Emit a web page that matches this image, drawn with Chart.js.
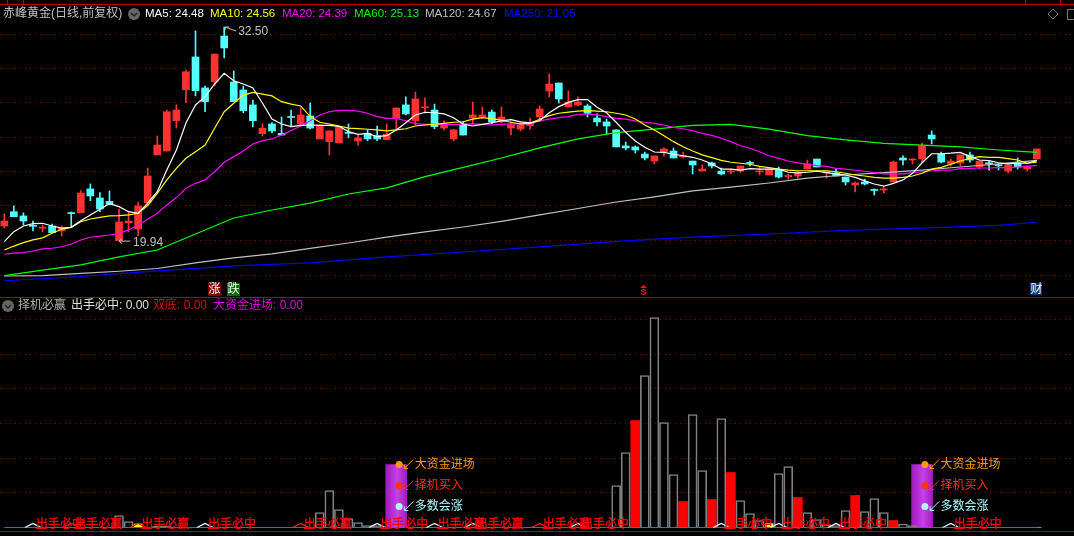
<!DOCTYPE html>
<html>
<head>
<meta charset="utf-8">
<title>赤峰黄金</title>
<script src="https://cdn.jsdelivr.net/npm/chart.js@4/dist/chart.umd.js"></script>
<style>
html, body { margin: 0; padding: 0; background: #000; overflow: hidden; }
canvas { display: block; }
</style>
</head>
<body>
<canvas id="kline" width="1074" height="536"></canvas>
<script>
// daily candles, one entry per trading day
var opens = [20.80,21.64,21.39,20.83,20.67,20.80,20.51,21.58,21.58,22.98,
  22.45,22.25,19.94,20.99,20.62,22.17,24.98,25.21,26.99,28.82,
  30.74,28.92,29.29,31.97,29.27,28.80,27.92,26.23,26.80,26.25,
  27.23,26.80,27.27,25.92,25.76,25.68,26.30,25.80,26.25,26.11,
  25.88,27.13,27.92,26.99,27.75,27.62,26.56,25.92,26.80,27.15,
  27.21,27.50,26.92,26.56,26.50,26.70,27.21,28.74,29.21,27.80,
  27.92,27.86,27.15,26.92,26.45,25.51,25.45,25.03,24.62,25.15,
  25.21,24.86,24.62,24.03,24.51,24.03,23.98,24.03,24.53,23.98,
  23.80,24.09,23.71,23.74,24.15,24.74,23.92,23.92,23.68,23.21,
  23.39,22.95,22.92,23.39,24.80,24.68,24.74,26.15,25.03,24.45,
  24.51,24.98,24.27,24.51,24.39,24.03,24.51,24.15,24.74];
var closes = [21.09,21.35,21.09,20.78,20.73,20.41,20.68,21.53,22.74,22.57,
  21.80,22.08,21.04,21.09,21.98,23.74,25.56,27.52,27.62,29.87,
  28.76,28.11,30.91,31.27,28.11,27.58,26.99,26.55,26.39,26.15,
  27.18,27.33,26.56,26.74,26.39,26.62,26.25,25.98,25.92,25.92,
  26.21,27.74,27.39,28.27,27.81,26.64,26.78,26.45,26.15,27.33,
  27.33,26.92,27.21,26.74,26.74,26.86,27.68,29.15,28.27,28.09,
  28.09,27.43,26.92,26.68,25.45,25.39,25.27,24.80,24.92,25.33,
  24.80,24.93,24.39,24.15,24.33,23.86,24.03,24.33,24.48,24.03,
  24.15,23.68,23.77,23.92,24.45,24.27,24.03,23.74,23.39,23.33,
  23.27,22.89,22.98,24.56,24.68,24.74,25.51,25.92,24.56,24.62,
  24.98,24.68,24.62,24.46,24.34,24.39,24.27,24.33,25.33];
var highs = [21.51,21.98,21.57,21.09,20.86,20.92,20.80,21.62,22.88,23.27,
  22.76,22.86,21.80,21.64,22.21,24.21,26.09,27.62,27.93,29.97,
  32.27,29.03,30.91,32.50,29.92,29.03,28.21,26.80,26.88,27.21,
  27.62,27.76,28.03,26.74,26.39,26.62,26.80,26.15,26.45,26.68,
  26.80,27.74,28.39,28.68,28.33,27.97,26.98,26.49,26.93,28.09,
  27.80,27.62,27.80,26.92,26.92,27.15,27.86,29.74,29.21,28.74,
  28.39,27.97,27.39,27.09,26.45,25.74,25.51,25.15,24.92,25.39,
  25.39,25.15,24.62,24.39,24.56,24.21,24.15,24.33,24.62,24.27,
  24.15,24.27,23.86,24.03,24.68,24.74,24.03,24.15,23.68,23.39,
  23.56,22.98,23.09,24.62,24.92,24.74,25.68,26.39,25.15,24.74,
  24.98,25.15,24.62,24.62,24.45,24.39,24.80,24.33,25.33];
var lows = [20.68,21.33,20.86,20.51,20.45,20.39,20.21,20.74,21.57,22.29,
  21.64,22.04,19.94,20.47,20.23,22.04,24.98,25.21,26.56,28.05,
  28.45,27.52,29.03,30.68,28.11,27.46,26.62,26.09,26.27,26.15,
  26.62,26.68,26.50,25.92,24.98,25.68,25.98,25.56,25.82,25.82,
  25.88,26.49,27.33,26.74,27.43,26.52,26.45,25.80,26.15,26.80,
  27.15,26.80,26.86,26.15,26.39,26.50,26.98,28.39,28.03,27.80,
  27.86,27.21,26.68,26.21,25.45,25.27,25.09,24.68,24.45,24.92,
  24.80,24.80,23.86,24.03,24.21,23.80,23.86,23.94,24.33,23.80,
  23.80,23.62,23.56,23.62,24.15,24.27,23.62,23.74,23.21,22.80,
  23.21,22.62,22.74,23.39,24.39,24.45,24.51,25.62,24.51,24.33,
  24.33,24.56,24.15,24.09,24.09,23.92,24.15,24.03,24.74];

var ma5 = [19.88,20.47,20.80,20.94,20.96,20.80,20.67,20.72,21.11,21.45,
  21.78,22.11,21.94,21.64,21.55,22.14,22.82,24.09,25.27,26.86,
  27.92,28.40,29.15,29.78,29.34,29.15,28.92,28.03,27.09,26.80,
  26.64,26.72,26.74,26.72,26.72,26.66,26.35,26.19,26.25,26.05,
  26.11,26.45,26.87,27.33,27.49,27.46,27.39,27.17,26.78,26.68,
  26.78,26.87,26.98,27.05,26.92,26.87,26.99,27.46,27.82,28.07,
  28.23,28.23,27.78,27.46,26.90,26.31,25.80,25.43,25.15,25.13,
  25.02,24.93,24.84,24.68,24.45,24.15,24.14,24.09,24.17,24.15,
  24.15,24.14,23.96,23.92,23.96,24.02,23.94,23.86,23.80,23.66,
  23.45,23.27,23.14,23.31,23.51,23.90,24.52,25.05,25.05,25.08,
  25.13,24.88,24.68,24.64,24.52,24.45,24.49,24.49,24.64];
var ma10 = [19.39,19.62,19.82,19.98,20.10,20.37,20.61,20.72,21.05,21.21,
  21.31,21.39,21.41,21.45,21.55,22.00,22.72,23.51,24.19,24.78,
  25.17,25.56,26.55,27.52,28.02,28.50,28.66,28.56,28.45,28.11,
  27.97,27.86,27.23,26.90,26.80,26.68,26.56,26.53,26.49,26.45,
  26.39,26.45,26.52,26.68,26.74,26.78,26.84,26.90,26.93,27.08,
  27.17,27.11,27.03,26.90,26.80,26.84,27.08,27.29,27.43,27.50,
  27.56,27.58,27.56,27.52,27.43,27.33,27.09,26.74,26.45,26.11,
  25.76,25.46,25.21,24.98,24.82,24.66,24.55,24.49,24.43,24.31,
  24.23,24.15,24.09,24.05,24.05,24.05,24.05,23.99,23.90,23.80,
  23.74,23.66,23.61,23.61,23.66,23.74,23.90,24.14,24.25,24.43,
  24.62,24.78,24.88,24.84,24.84,24.76,24.68,24.49,24.55];
var ma20 = [19.14,19.20,19.23,19.33,19.45,19.49,19.58,19.73,19.98,20.14,
  20.21,20.27,20.37,20.57,20.86,21.20,21.55,22.04,22.47,23.02,
  23.31,23.51,23.99,24.55,24.88,25.21,25.62,25.82,25.92,26.15,
  26.41,26.68,26.99,27.33,27.52,27.60,27.60,27.56,27.43,27.23,
  27.13,27.13,26.99,26.82,26.78,26.78,26.78,26.78,26.78,26.80,
  26.78,26.74,26.78,26.80,26.80,26.80,26.98,27.08,27.17,27.23,
  27.37,27.37,27.33,27.23,27.13,27.08,26.98,26.90,26.84,26.74,
  26.60,26.52,26.41,26.25,26.13,25.96,25.76,25.52,25.37,25.17,
  24.93,24.78,24.62,24.51,24.43,24.35,24.31,24.19,24.15,24.08,
  24.02,23.94,23.86,23.86,23.86,23.94,23.99,24.05,24.08,24.08,
  24.17,24.19,24.21,24.21,24.23,24.23,24.27,24.29,24.37];

// the slow averages are read every few days
var slowDays = [0,4,8,12,16,20,24,28,32,36,40,44,48,52,56,60,64,68,72,76,80,84,88,92,96,100,104,108];
var ma60 = [17.88,18.21,18.51,18.98,19.39,20.33,21.27,21.74,22.15,22.68,23.04,23.70,24.25,24.80,
  25.39,25.92,26.29,26.50,26.72,26.78,26.50,26.11,25.86,25.66,25.55,25.45,25.27,25.13];
var ma120 = [17.86,17.88,18.01,18.14,18.30,18.63,18.92,19.16,19.48,19.80,20.15,20.45,20.74,21.07,
  21.45,21.83,22.21,22.51,22.86,23.09,23.33,23.62,23.80,23.94,24.09,24.27,24.45,24.66];
var ma250Days = [0,8,16,24,32,40,48,56,64,72,80,88,96,104,108];
var ma250 = [17.58,17.83,18.16,18.45,18.63,18.98,19.27,19.57,19.89,20.15,20.33,20.54,20.68,20.84,21.02];

var priceGrid = [32.07,30.05,28.05,26.03,24.02,21.98,19.94,17.88];

// lower pane
var greyDays = [12,13,16,17,33,34,35,36,37,38,39,64,65,67,68,69,70,72,73,75,77,78,79,81,82,84,85,86,87,88,90,91,92,94,95];
var greyVols = [12,6,1.5,1.5,15,37,18,9,5,2,2,42,75,152,210,105,53,113,57,109,27,14,7,54,61,15,8,3,2,17,16,29,15,3.5,2];
var redDays = [66,71,74,76,83,89,93];
var redVols = [107,26,28,55,30,32,7];
var yellowDays = [14,80];
var yellowVols = [3.5,4];
var signalBarDays = [41,96];
var signalBarVols = [63,63];
var volGrid = [35,69,104,139,173,208];

var signalDays = [3,7,14,21,31,39,45,49,56,60,75,81,87,99];
var signalTexts = ["出手必中","出手必赢","出手必赢","出手必中","出手必赢","出手必中","出手必赢","出手必赢","出手必赢","出手必中","出手必中","出手必中","出手必中","出手必中"];
var whiteTents = [3,21,39,45,49,60,75,81,87,99];
var redTents = [7,14,31,56];
var markerVols = [63,42,21];
var markerTexts = ["大资金进场","择机买入","多数会涨"];
var markerColors = ["#ff9900","#ff3300","#aaffff"];

var days = opens.map(function (o, i) { return i; });
var RED = "#ff3232", CYAN = "#54ffff";
var LATIN = '11.5px "Liberation Sans", "Noto Sans CJK SC"';

function pts(xs, ys) {
  return xs.map(function (x, i) { return { x: x, y: ys[i] }; });
}
function tents(list) {
  var out = [];
  list.forEach(function (d) {
    out.push({ x: d - 0.85, y: 0 }, { x: d, y: 4 }, { x: d + 0.85, y: 0 }, { x: d + 0.9, y: null });
  });
  return out;
}
function candleColor(c) {
  var i = c.dataIndex;
  return closes[i] >= opens[i] ? RED : CYAN;
}
function lineSet(label, data, color, order, axis) {
  return { type: "line", label: label, data: data, borderColor: color, borderWidth: 1.2,
    pointRadius: 0, tension: 0, order: order, yAxisID: axis || "price" };
}
function purple(c) {
  if (!c.raw) return "#b030d0";
  var cx = c.chart.scales.x.getPixelForValue(c.raw.x);
  if (!isFinite(cx)) return "#b030d0";
  var g = c.chart.ctx.createLinearGradient(cx - 10.5, 0, cx + 10.5, 0);
  g.addColorStop(0, "#a01cbc");
  g.addColorStop(0.3, "#b42ed4");
  g.addColorStop(0.55, "#c640e8");
  g.addColorStop(0.8, "#b02cd0");
  g.addColorStop(1, "#a01cbc");
  return g;
}

function txt(ctx, s, x, y, color, font) {
  ctx.font = font || '12px "Liberation Sans", "Noto Sans CJK SC"';
  ctx.fillStyle = color;
  ctx.textAlign = "left";
  ctx.textBaseline = "middle";
  ctx.fillText(s, x, y);
}
function seg(ctx, color, x1, y1, x2, y2) {
  ctx.strokeStyle = color;
  ctx.lineWidth = 1;
  ctx.beginPath();
  ctx.moveTo(x1, y1);
  ctx.lineTo(x2, y2);
  ctx.stroke();
}
function icon(ctx, x, y) {
  ctx.fillStyle = "#666";
  ctx.beginPath();
  ctx.arc(x, y, 6, 0, Math.PI * 2);
  ctx.fill();
  ctx.strokeStyle = "#222";
  ctx.lineWidth = 1.5;
  ctx.beginPath();
  ctx.moveTo(x - 3, y - 1);
  ctx.lineTo(x, y + 2);
  ctx.lineTo(x + 3, y - 1);
  ctx.stroke();
}
function badge(ctx, s, x, y, w, h, bg) {
  ctx.fillStyle = bg;
  ctx.fillRect(x, y, w, h);
  txt(ctx, s, x + 0.5, y + h / 2 + 0.5, "#fff");
}

var decorations = {
  id: "decorations",
  afterDatasetsDraw: function (chart) {
    var ctx = chart.ctx, X = chart.scales.x, P = chart.scales.price, V = chart.scales.vol;
    ctx.save();

    // frame
    seg(ctx, "#c00000", 0, 4.5, 1074, 4.5);
    seg(ctx, "#c00000", 7.5, 0, 7.5, 4);
    seg(ctx, "#c00000", 23.5, 0, 23.5, 4);
    seg(ctx, "#c00000", 1025.5, 0, 1025.5, 4);
    seg(ctx, "#c00000", 1060.5, 0, 1060.5, 4);
    seg(ctx, "#b00000", 0, 297.5, 1074, 297.5);
    seg(ctx, "#c00000", 0, 531.5, 1074, 531.5);

    // top header
    txt(ctx, "赤峰黄金(日线,前复权)", 3, 14, "#c0c0c0");
    icon(ctx, 134, 14);
    txt(ctx, "MA5: 24.48", 145, 14, "#ffffff", LATIN);
    txt(ctx, "MA10: 24.56", 210, 14, "#ffff00", LATIN);
    txt(ctx, "MA20: 24.39", 282, 14, "#ff00ff", LATIN);
    txt(ctx, "MA60: 25.13", 354, 14, "#00ff00", LATIN);
    txt(ctx, "MA120: 24.67", 425, 14, "#c0c0c0", LATIN);
    txt(ctx, "MA250: 21.05", 504, 14, "#0000ff", LATIN);

    ctx.strokeStyle = "#777";
    ctx.lineWidth = 1;
    ctx.beginPath();
    ctx.moveTo(1053, 9); ctx.lineTo(1058, 14); ctx.lineTo(1053, 19); ctx.lineTo(1048, 14); ctx.closePath();
    ctx.stroke();
    ctx.strokeRect(1067.5, 9.5, 10, 10);

    // high and low call-outs
    var hx = X.getPixelForValue(23), hy = P.getPixelForValue(32.50);
    seg(ctx, "#c0c0c0", hx + 1, hy, hx + 12, hy + 4);
    seg(ctx, "#c0c0c0", hx + 1, hy, hx + 1, hy + 3);
    seg(ctx, "#c0c0c0", hx + 1, hy, hx + 5, hy);
    txt(ctx, "32.50", hx + 14, hy + 5, "#c0c0c0");
    var lx = X.getPixelForValue(12), ly = P.getPixelForValue(19.94);
    seg(ctx, "#c0c0c0", lx, ly + 0.5, lx + 11, ly + 0.5);
    seg(ctx, "#c0c0c0", lx, ly + 0.5, lx + 3, ly - 2);
    seg(ctx, "#c0c0c0", lx, ly + 0.5, lx + 3, ly + 3);
    txt(ctx, "19.94", lx + 14, ly + 2, "#c0c0c0");

    // event tags
    badge(ctx, "涨", 208, 283, 13, 13, "#800000");
    badge(ctx, "跌", 227, 283, 13, 13, "#007000");
    badge(ctx, "财", 1030, 283, 12, 12, "#0a3a78");
    ctx.fillStyle = "#ff1010";
    ctx.beginPath();
    ctx.moveTo(643.5, 285); ctx.lineTo(647, 288); ctx.lineTo(640, 288); ctx.closePath();
    ctx.fill();
    txt(ctx, "S", 640.5, 293, "#ff1010", 'bold 9px "Liberation Sans"');

    // lower header
    icon(ctx, 8, 306);
    txt(ctx, "择机必赢", 18, 306, "#b0b0b0");
    txt(ctx, "出手必中: 0.00", 71, 306, "#e0e0e0");
    txt(ctx, "双底: 0.00", 153, 306, "#d81010");
    txt(ctx, "大资金进场: 0.00", 213, 306, "#e000e0");

    // signal words sit on the zero line
    signalDays.forEach(function (d, i) {
      var x = X.getPixelForValue(d) + 3, y = V.getPixelForValue(2.5);
      txt(ctx, signalTexts[i], x, y, "#ff0000");
      ctx.strokeStyle = "#ff0000";
      ctx.lineWidth = 0.3;
      ctx.strokeText(signalTexts[i], x, y);
      seg(ctx, "#ff0000", x, V.getPixelForValue(0) + 1, x + 11, V.getPixelForValue(0) + 1);
    });

    // marker words next to the purple bars
    signalBarDays.forEach(function (d) {
      var x = X.getPixelForValue(d);
      markerVols.forEach(function (v, i) {
        var y = V.getPixelForValue(v), c = markerColors[i];
        seg(ctx, c, x + 8, y + 4, x + 17, y - 5);
        seg(ctx, c, x + 8, y + 4, x + 8, y);
        seg(ctx, c, x + 8, y + 4, x + 12, y + 4);
        txt(ctx, markerTexts[i], x + 18.5, y, c);
      });
    });
    ctx.restore();
  }
};

var markerSets = markerColors.map(function (c, i) {
  return { type: "line", label: markerTexts[i], showLine: false, yAxisID: "vol", order: 0,
    pointRadius: 3.5, pointBackgroundColor: c, pointBorderWidth: 0,
    data: [{ x: signalBarDays[0] + 0.3, y: markerVols[i] }, { x: signalBarDays[1] + 0.3, y: markerVols[i] }] };
});

var chart = new Chart(document.getElementById("kline"), {
  type: "bar",
  plugins: [decorations],
  data: {
    datasets: [
      lineSet("MA5", pts(days, ma5), "#ffffff", 1),
      lineSet("MA10", pts(days, ma10), "#ffff00", 2),
      lineSet("MA20", pts(days, ma20), "#ff00ff", 3),
      lineSet("MA60", pts(slowDays, ma60), "#00ff00", 4),
      lineSet("MA120", pts(slowDays, ma120), "#c0c0c0", 5),
      lineSet("MA250", pts(ma250Days, ma250), "#0000ff", 6),
      { label: "body", yAxisID: "price", order: 7, grouped: false, barThickness: 7, minBarLength: 1,
        backgroundColor: candleColor, borderWidth: 0,
        data: days.map(function (d) { return { x: d, y: [opens[d], closes[d]] }; }) },
      { label: "wick", yAxisID: "price", order: 8, grouped: false, barThickness: 1,
        backgroundColor: candleColor, borderWidth: 0,
        data: days.map(function (d) { return { x: d, y: [lows[d], highs[d]] }; }) },

      lineSet("white", tents(whiteTents), "#ffffff", 2, "vol"),
      lineSet("redTent", tents(redTents), "#ff2020", 2, "vol"),
      lineSet("zero", pts([0, 108], [0, 0]), "#ff00ff", 3, "vol"),
      lineSet("zeroGrey", pts([108, 108.5], [0, 0]), "#808080", 9, "vol"),
      { label: "出手", yAxisID: "vol", order: 10, grouped: false, barThickness: 9,
        backgroundColor: "rgba(0,0,0,0)", borderColor: "#808080", borderWidth: 1,
        data: pts(greyDays, greyVols) },
      { label: "双底", yAxisID: "vol", order: 10, grouped: false, barThickness: 9,
        backgroundColor: "#ff0000", borderWidth: 0,
        data: pts(redDays, redVols) },
      { label: "yellow", yAxisID: "vol", order: 10, grouped: false, barThickness: 8,
        backgroundColor: "#ffff00", borderWidth: 0,
        data: pts(yellowDays, yellowVols) },
      { label: "大资金进场", yAxisID: "vol", order: 11, grouped: false, barThickness: 21,
        backgroundColor: purple, borderWidth: 0,
        data: pts(signalBarDays, signalBarVols) }
    ].concat(markerSets)
  },
  options: {
    responsive: false,
    animation: false,
    devicePixelRatio: 1,
    layout: { padding: 0, autoPadding: false },
    plugins: { legend: { display: false }, title: { display: false }, tooltip: { enabled: false } },
    scales: {
      x: { type: "linear", display: false, min: -0.45, max: 111.89, offset: false },
      price: {
        type: "linear", position: "left", min: 2.57, max: 34.09,
        ticks: { display: false },
        grid: { color: "#800000", drawTicks: false, lineWidth: 1 },
        border: { display: false, dash: [1, 4] },
        afterBuildTicks: function (a) { a.ticks = priceGrid.map(function (v) { return { value: v }; }); },
        afterFit: function (a) { a.width = 0; }
      },
      vol: {
        type: "linear", position: "left", min: -8.5, max: 527.5,
        ticks: { display: false },
        grid: { color: "#800000", drawTicks: false, lineWidth: 1 },
        border: { display: false, dash: [1, 4] },
        afterBuildTicks: function (a) { a.ticks = volGrid.map(function (v) { return { value: v }; }); },
        afterFit: function (a) { a.width = 0; }
      }
    }
  }
});
</script>
</body>
</html>
